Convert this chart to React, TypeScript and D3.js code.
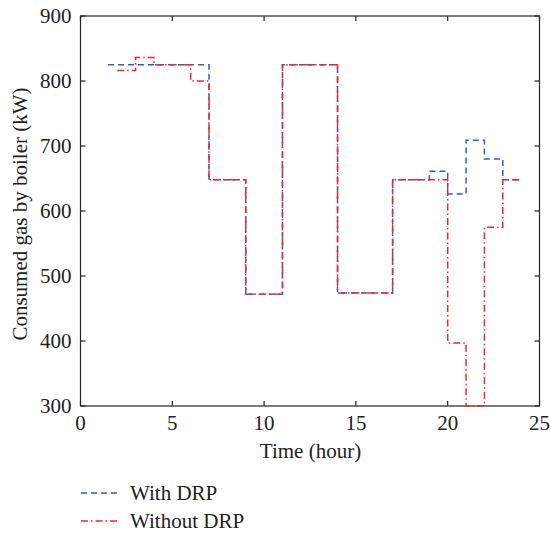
import React from "react";
import * as d3 from "d3";

const withHours = [1.5, 7, 9, 11, 14, 17, 19, 20, 21, 22, 23, 24];
const withValues = [825, 648, 472, 825, 474, 648, 661, 626, 709, 680, 648, 648];
const withoutHours = [2, 3, 4, 6, 7, 9, 11, 14, 17, 20, 21, 22, 23, 24];
const withoutValues = [816, 836, 825, 800, 648, 472, 825, 474, 648, 397, 300, 575, 648, 648];
const xTicks = [0, 5, 10, 15, 20, 25];
const yTicks = [300, 400, 500, 600, 700, 800, 900];
const seriesNames = ["With DRP", "Without DRP"];

const W = 550, H = 533;
const L = 80.5, R = 539.5, T = 16, B = 406;
const FONT = "'Liberation Serif', 'DejaVu Serif', serif";
const BLUE = "#3a5cc0";
const RED = "#f0282e";
const DASH_BLUE = "6,4";
const DASH_RED = "7,3,1.5,3";
const FS = 21;

export default function App() {
  const x = d3.scaleLinear().domain([0, 25]).range([L, R]);
  const y = d3.scaleLinear().domain([300, 900]).range([B, T]);
  const line = d3
    .line<[number, number]>()
    .x((d) => x(d[0]))
    .y((d) => y(d[1]))
    .curve(d3.curveStepAfter);
  const withPts = withHours.map((h, i) => [h, withValues[i]] as [number, number]);
  const withoutPts = withoutHours.map((h, i) => [h, withoutValues[i]] as [number, number]);
  const tickLen = 5;
  return (
    <svg
      width={W}
      height={H}
      style={{ position: "absolute", left: 0, top: 0, background: "#fff" }}
      fontFamily={FONT}
    >
      <rect x={0} y={0} width={W} height={H} fill="#fff" />
      {/* frame */}
      <rect x={L} y={T} width={R - L} height={B - T} fill="none" stroke="#262626" strokeWidth={1.2} />
      {xTicks.map((t) => (
        <g key={"x" + t}>
          <line x1={x(t)} x2={x(t)} y1={B} y2={B - tickLen} stroke="#262626" strokeWidth={1.2} />
          <line x1={x(t)} x2={x(t)} y1={T} y2={T + tickLen} stroke="#262626" strokeWidth={1.2} />
          <text x={x(t)} y={B + 24} textAnchor="middle" fontSize={FS} fill="#222">
            {t}
          </text>
        </g>
      ))}
      {yTicks.map((t) => (
        <g key={"y" + t}>
          <line x1={L} x2={L + tickLen} y1={y(t)} y2={y(t)} stroke="#262626" strokeWidth={1.2} />
          <line x1={R} x2={R - tickLen} y1={y(t)} y2={y(t)} stroke="#262626" strokeWidth={1.2} />
          <text x={L - 9} y={y(t) + 7} textAnchor="end" fontSize={FS} fill="#222">
            {t}
          </text>
        </g>
      ))}
      <path d={line(withPts) || ""} fill="none" stroke={BLUE} strokeWidth={1.5} strokeDasharray={DASH_BLUE} />
      <path d={line(withoutPts) || ""} fill="none" stroke={RED} strokeWidth={1.5} strokeDasharray={DASH_RED} />
      <text x={(L + R) / 2 + 0.5} y={458} textAnchor="middle" fontSize={FS} fill="#222">
        Time (hour)
      </text>
      <text
        transform={`translate(27, 214) rotate(-90)`}
        textAnchor="middle"
        fontSize={FS}
        fill="#222"
      >
        Consumed gas by boiler (kW)
      </text>
      {/* legend */}
      <line x1={81} x2={117} y1={493} y2={493} stroke={BLUE} strokeWidth={1.5} strokeDasharray={DASH_BLUE} />
      <text x={130} y={500} fontSize={FS} fill="#222">{seriesNames[0]}</text>
      <line x1={81} x2={117} y1={521} y2={521} stroke={RED} strokeWidth={1.5} strokeDasharray={DASH_RED} />
      <text x={130} y={528} fontSize={FS} fill="#222">{seriesNames[1]}</text>
    </svg>
  );
}
